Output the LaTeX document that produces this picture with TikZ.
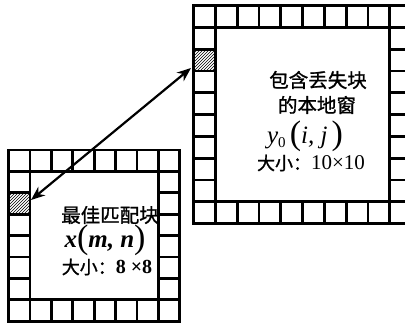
\documentclass[tikz,border=0pt]{standalone}
\usepackage{fontspec}
\setmainfont{Liberation Serif}
\newfontfamily\cjk{Noto Sans CJK SC}[FakeBold=1.2]
\usetikzlibrary{arrows.meta,patterns}
\tikzset{
  gridline/.style={line width=2.8pt},
  hatchcell/.style={pattern=north east lines},
  label/.style={inner sep=0pt, anchor=center},
  link/.style={line width=2.2pt, {Stealth[length=14pt,width=11pt]}-{Stealth[length=14pt,width=11pt]}}
}
\newcommand{\bigpar}[1]{{\mdseries\upshape\fontsize{34}{34}\selectfont\raisebox{-0.5pt}{#1}}}
% \borderwin{x0}{y0}{cell}{n}
\newcommand{\borderwin}[4]{%
  \pgfmathsetmacro{\xa}{#1}\pgfmathsetmacro{\ya}{#2}%
  \pgfmathsetmacro{\xb}{#1+#4*#3}\pgfmathsetmacro{\yb}{#2+#4*#3}%
  \pgfmathsetmacro{\xc}{#1+#3}\pgfmathsetmacro{\yc}{#2+#3}%
  \pgfmathsetmacro{\xd}{#1+(#4-1)*#3}\pgfmathsetmacro{\yd}{#2+(#4-1)*#3}%
  \draw[gridline] (\xa,\ya) rectangle (\xb,\yb);
  \draw[gridline] (\xc,\yc) rectangle (\xd,\yd);
  \pgfmathtruncatemacro{\nm}{#4-1}%
  \foreach \k in {1,...,\nm}{
    \pgfmathsetmacro{\p}{#1+\k*#3}\pgfmathsetmacro{\q}{#2+\k*#3}
    \draw[gridline] (\p,\ya) -- (\p,\yc);
    \draw[gridline] (\p,\yd) -- (\p,\yb);
    \draw[gridline] (\xa,\q) -- (\xc,\q);
    \draw[gridline] (\xd,\q) -- (\xb,\q);
  }
}
\begin{document}
\begin{tikzpicture}[x=1pt,y=-1pt]
\useasboundingbox (0,0) rectangle (405,325);
\begin{scope}
\clip (0,0) rectangle (405,325);
% hatched cells
\fill[hatchcell] (8.5,192.8) rectangle (29.9,214.2);
\fill[hatchcell] (193.5,49.1) rectangle (215.3,70.9);
% left window 8x8
\borderwin{8.5}{150}{21.4}{8}
% right window 10x10
\borderwin{193.5}{5.5}{21.8}{10}
\end{scope}
% arrow
\coordinate (lcell) at (31,200);
\coordinate (rcell) at (191,68);
\draw[link] (lcell) -- (rcell);
% left texts
\node[label] (lt1) at (110,215) {\fontsize{19.5}{19.5}\cjk 最佳匹配块};
\node[label] (lt2) at (105,240) {\fontsize{25}{25}\selectfont\bfseries\itshape x\bigpar{(}m, n\bigpar{)}};
\node[label] (lt3) at (107,267) {{\fontsize{18}{18}\cjk 大小：}{\fontsize{20}{20}\selectfont\bfseries 8 ×8}};
% right texts
\node[label] (rt1) at (318,80) {\fontsize{19.5}{19.5}\cjk 包含丢失块};
\node[label] (rt2) at (317,105) {\fontsize{19.5}{19.5}\cjk 的本地窗};
\node[label] (rt3) at (305,136) {\fontsize{25}{25}\selectfont\itshape y\raisebox{-4pt}{\fontsize{15}{15}\selectfont\upshape 0}\,\bigpar{(}i, j\,\bigpar{)}};
\node[label] (rt4) at (311,163) {{\fontsize{18}{18}\cjk 大小：}{\fontsize{21}{21}\selectfont 10×10}};
\end{tikzpicture}
\end{document}
